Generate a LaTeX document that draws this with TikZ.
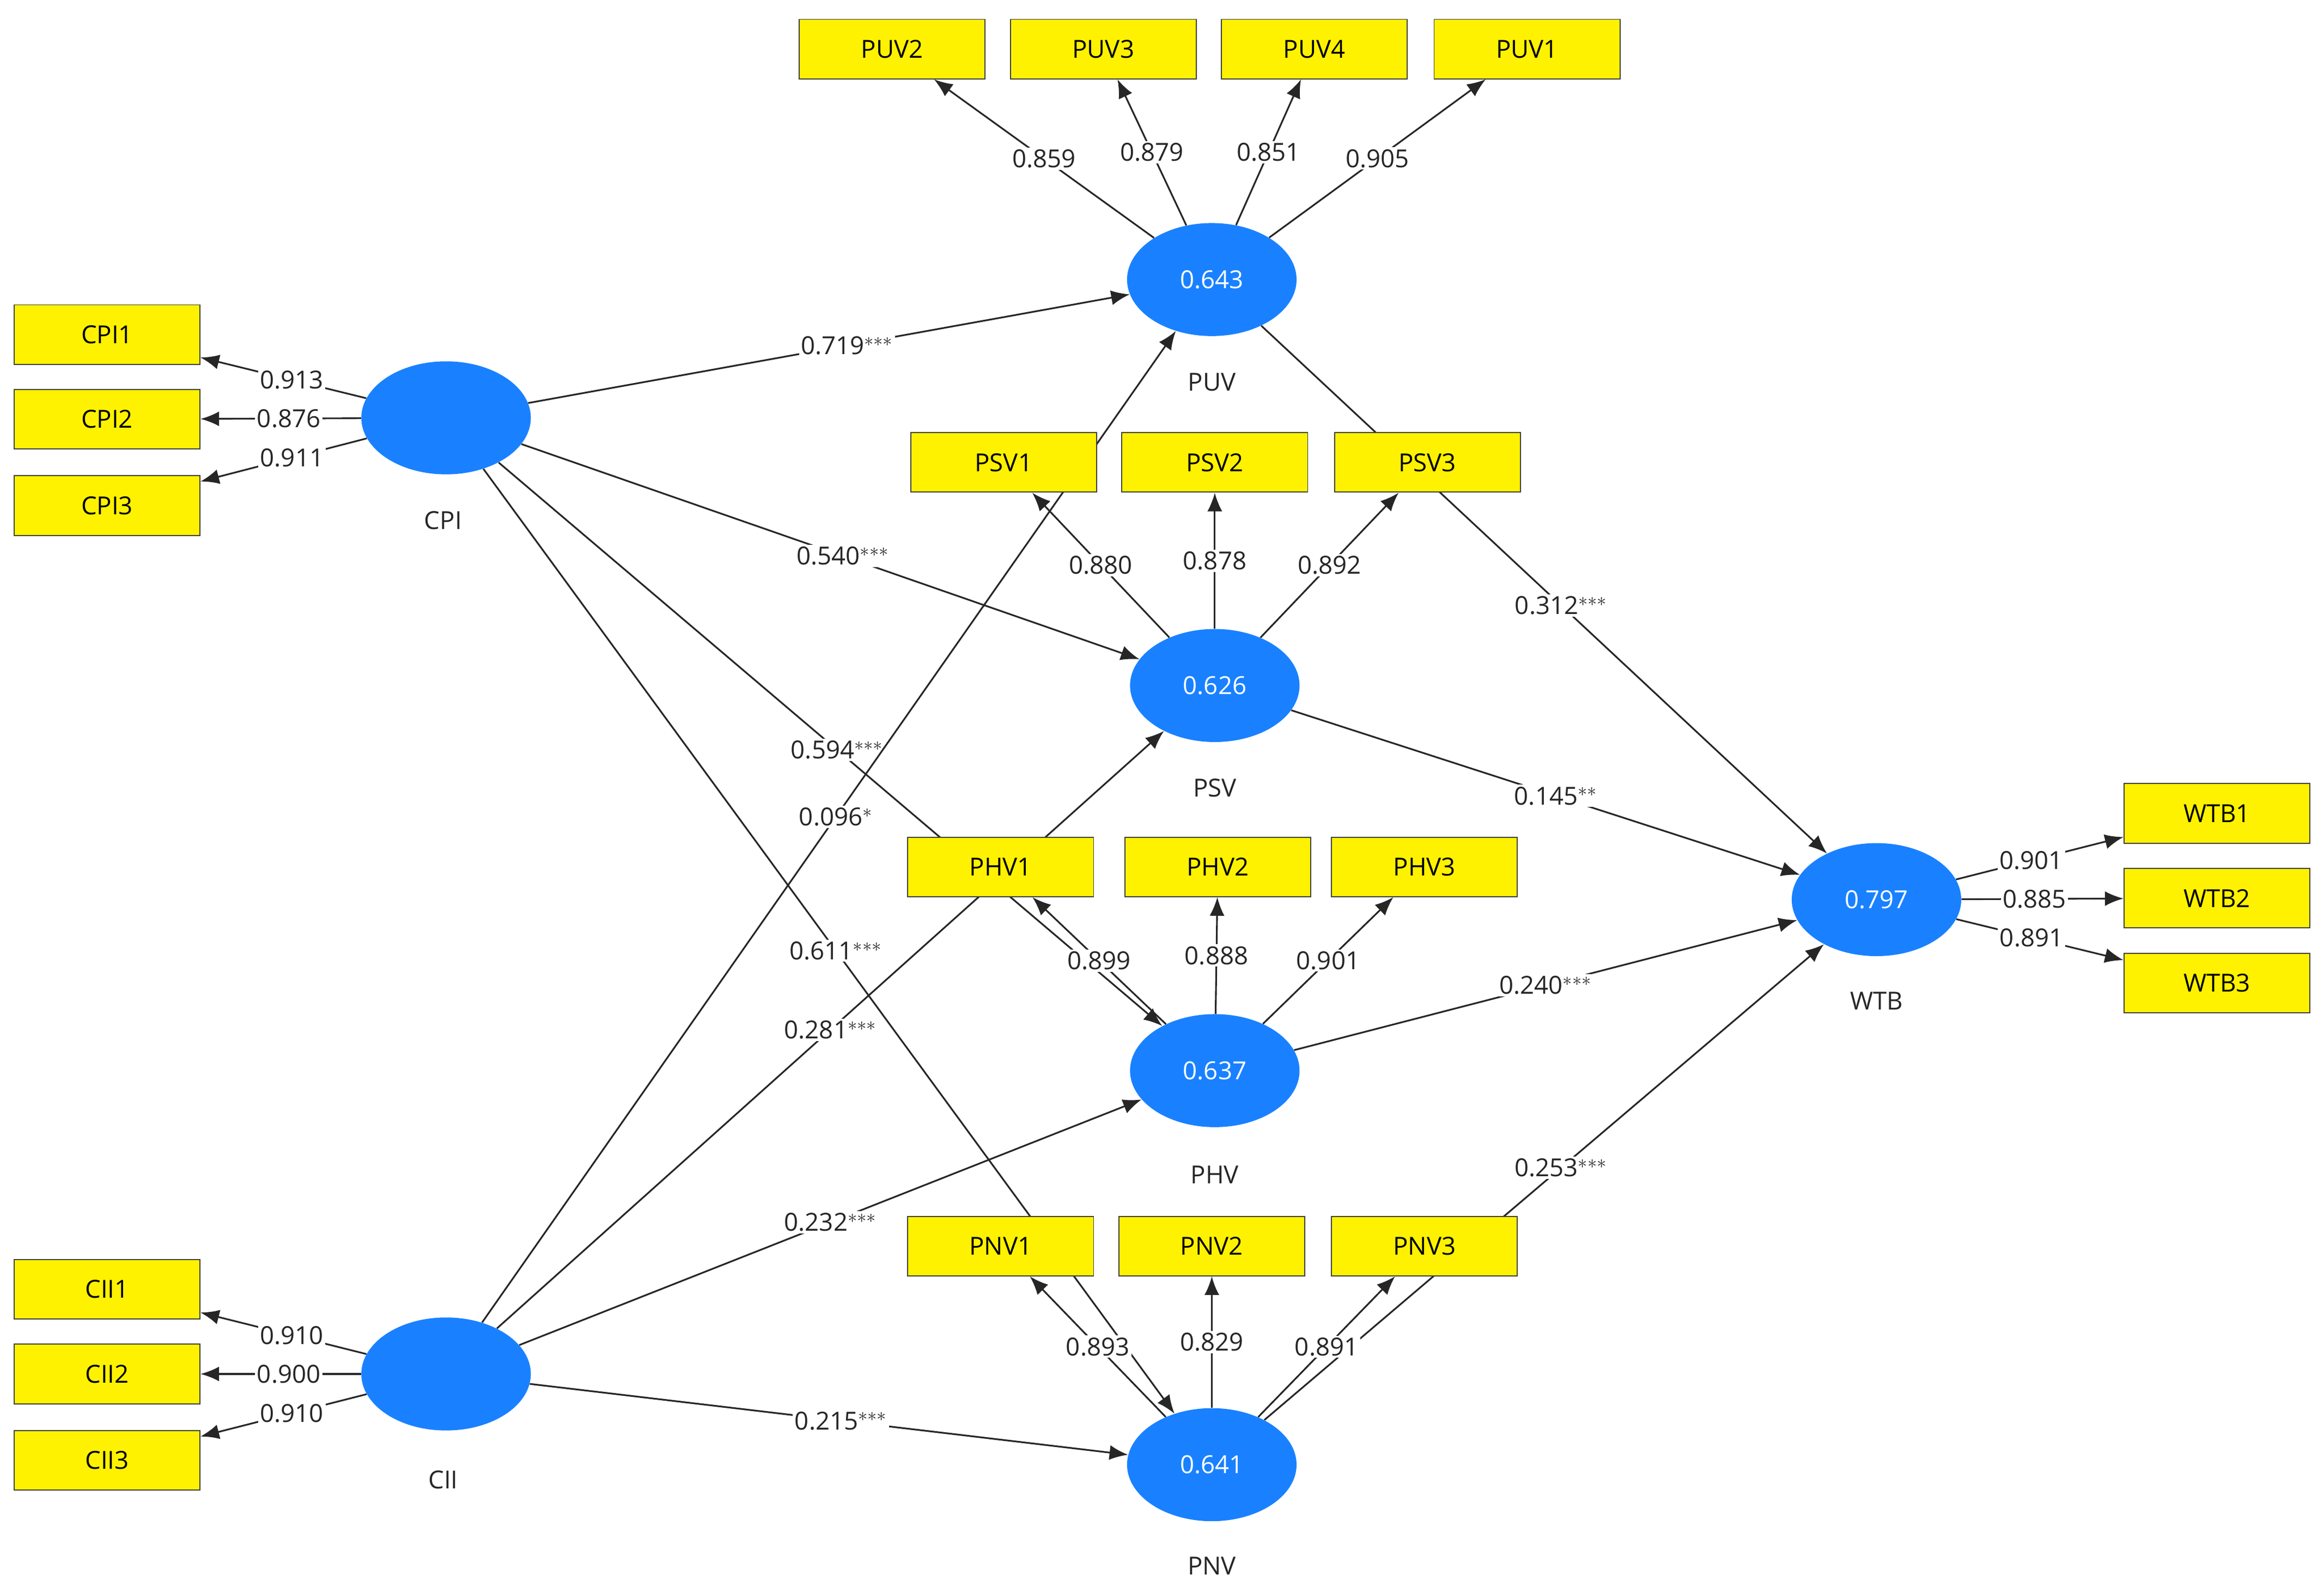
\documentclass[tikz,border=0pt]{standalone}
\usepackage{fontspec}
\setmainfont{Open Sans}
\usetikzlibrary{arrows.meta,shapes.geometric,positioning}

\begin{document}
\begin{tikzpicture}[
      x=0.4mm,y=-0.4mm,
      font=\fontsize{19}{23}\selectfont,
      ind/.style={rectangle,draw=black!75,fill=yellow,line width=0.8pt,minimum width=50mm,
                  minimum height=16mm,inner sep=0pt},
      lat/.style={ellipse,fill=blue!55!cyan!90!white,draw=none,minimum width=45.6mm,
                  minimum height=30.4mm,text=white,inner sep=0pt},
      arr/.style={-{Latex[length=5mm,width=4mm]},line width=1.3pt,black!85},
      val/.style={fill=white,inner sep=1.5pt,text=black!85},
      latname/.style={text=black!85}
    ]
    \useasboundingbox (0,0) rectangle (1563,1067);

    % latent constructs
    \node[lat] (CPI) at (300,281) {};
    \node[lat] (CII) at (300,924) {};
    \node[lat] (PUV) at (815,188) {0.643};
    \node[lat] (PSV) at (817,461) {0.626};
    \node[lat] (PHV) at (817,720) {0.637};
    \node[lat] (PNV) at (815,985) {0.641};
    \node[lat] (WTB) at (1262,605) {0.797};
    \node[latname] (tCPI) at (298,350) {CPI};
    \node[latname] (tCII) at (298,995) {CII};
    \node[latname] (tPUV) at (815,257) {PUV};
    \node[latname] (tPSV) at (817,530) {PSV};
    \node[latname] (tPHV) at (817,790) {PHV};
    \node[latname] (tPNV) at (815,1053) {PNV};
    \node[latname] (tWTB) at (1262,673) {WTB};

    % indicators
    \node[ind] (PUV2) at (600,33) {PUV2};
    \node[ind] (PUV3) at (742,33) {PUV3};
    \node[ind] (PUV4) at (884,33) {PUV4};
    \node[ind] (PUV1) at (1027,33) {PUV1};
    \node[ind] (CPI1) at (72,225) {CPI1};
    \node[ind] (CPI2) at (72,282) {CPI2};
    \node[ind] (CPI3) at (72,340) {CPI3};
    \node[ind] (CII1) at (72,867) {CII1};
    \node[ind] (CII2) at (72,924) {CII2};
    \node[ind] (CII3) at (72,982) {CII3};
    \node[ind] (WTB1) at (1491,547) {WTB1};
    \node[ind] (WTB2) at (1491,604) {WTB2};
    \node[ind] (WTB3) at (1491,661) {WTB3};

    % structural paths (drawn before the middle indicator boxes)
    \draw[arr] (CPI) -- node[val,pos=0.53]{0.719$^{***}$} (PUV);
    \draw[arr] (CPI) -- node[val,pos=0.52]{0.540$^{***}$} (PSV);
    \draw[arr] (CPI) -- node[val,pos=0.51]{0.594$^{***}$} (PHV);
    \draw[arr] (CPI) -- node[val,pos=0.51]{0.611$^{***}$} (PNV);
    \draw[arr] (CII) -- node[val,pos=0.51]{0.096$^{*}$} (PUV);
    \draw[arr] (CII) -- node[val,pos=0.50]{0.281$^{***}$} (PSV);
    \draw[arr] (CII) -- node[val,pos=0.50]{0.232$^{***}$} (PHV);
    \draw[arr] (CII) -- node[val,pos=0.52]{0.215$^{***}$} (PNV);
    \draw[arr] (PUV) -- node[val,pos=0.53]{0.312$^{***}$} (WTB);
    \draw[arr] (PSV) -- node[val,pos=0.52]{0.145$^{**}$} (WTB);
    \draw[arr] (PHV) -- node[val,pos=0.50]{0.240$^{***}$} (WTB);
    \draw[arr] (PNV) -- node[val,pos=0.53]{0.253$^{***}$} (WTB);

    \node[ind] (PSV1) at (675,311) {PSV1};
    \node[ind] (PSV2) at (817,311) {PSV2};
    \node[ind] (PSV3) at (960,311) {PSV3};
    \node[ind] (PHV1) at (673,583) {PHV1};
    \node[ind] (PHV2) at (819,583) {PHV2};
    \node[ind] (PHV3) at (958,583) {PHV3};
    \node[ind] (PNV1) at (673,838) {PNV1};
    \node[ind] (PNV2) at (815,838) {PNV2};
    \node[ind] (PNV3) at (958,838) {PNV3};

    % outer loadings
    \draw[arr] (PUV) -- node[val]{0.859} (PUV2);
    \draw[arr] (PUV) -- node[val]{0.879} (PUV3);
    \draw[arr] (PUV) -- node[val]{0.851} (PUV4);
    \draw[arr] (PUV) -- node[val]{0.905} (PUV1);
    \draw[arr] (CPI) -- node[val,pos=0.45]{0.913} (CPI1);
    \draw[arr] (CPI) -- node[val,pos=0.45]{0.876} (CPI2);
    \draw[arr] (CPI) -- node[val,pos=0.45]{0.911} (CPI3);
    \draw[arr] (CII) -- node[val,pos=0.45]{0.910} (CII1);
    \draw[arr] (CII) -- node[val,pos=0.45]{0.900} (CII2);
    \draw[arr] (CII) -- node[val,pos=0.45]{0.910} (CII3);
    \draw[arr] (PSV) -- node[val]{0.880} (PSV1);
    \draw[arr] (PSV) -- node[val]{0.878} (PSV2);
    \draw[arr] (PSV) -- node[val]{0.892} (PSV3);
    \draw[arr] (PHV) -- node[val]{0.899} (PHV1);
    \draw[arr] (PHV) -- node[val]{0.888} (PHV2);
    \draw[arr] (PHV) -- node[val]{0.901} (PHV3);
    \draw[arr] (PNV) -- node[val]{0.893} (PNV1);
    \draw[arr] (PNV) -- node[val]{0.829} (PNV2);
    \draw[arr] (PNV) -- node[val]{0.891} (PNV3);
    \draw[arr] (WTB) -- node[val,pos=0.45]{0.901} (WTB1);
    \draw[arr] (WTB) -- node[val,pos=0.45]{0.885} (WTB2);
    \draw[arr] (WTB) -- node[val,pos=0.45]{0.891} (WTB3);

  \end{tikzpicture}
\end{document}
